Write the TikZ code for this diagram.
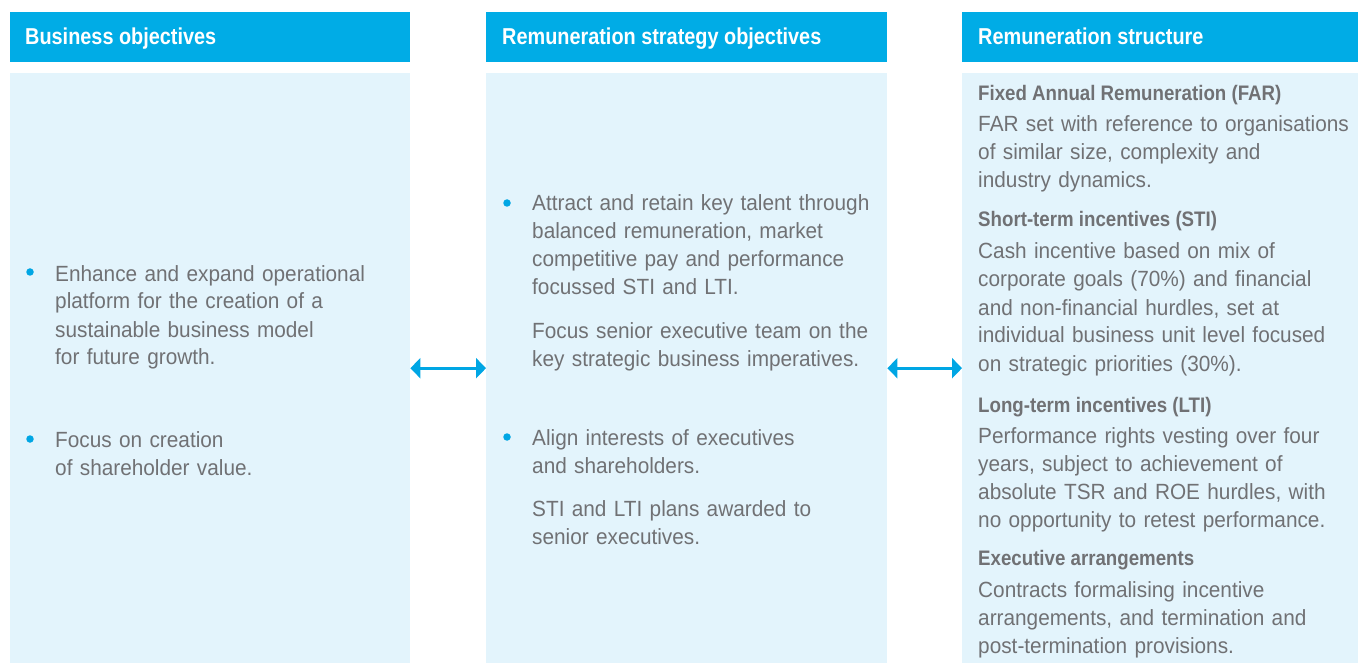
\documentclass[tikz,border=0pt]{standalone}
\usepackage{fontspec}
\usetikzlibrary{arrows.meta}
\newfontfamily\bodyfont{Liberation Sans}[FakeStretch=0.945]
\newfontfamily\subfont{Liberation Sans Bold}[FakeStretch=0.89]
\newfontfamily\headfont{Liberation Sans Bold}[FakeStretch=0.864]
\definecolor{cyanhead}{RGB}{0,172,230}
\definecolor{panelbg}{RGB}{227,244,252}
\definecolor{txtgray}{RGB}{112,113,116}
\definecolor{bulletc}{RGB}{0,166,228}
\tikzset{
  headbox/.style={fill=cyanhead, draw=none, inner sep=0, minimum width=#1, minimum height=50pt, anchor=north west},
  panel/.style={fill=panelbg, draw=none, inner sep=0, minimum width=#1, minimum height=590pt, anchor=north west},
  headtxt/.style={anchor=base west, inner sep=0, text=white, font=\headfont\fontsize{23}{28}\selectfont},
  body/.style={anchor=base west, inner sep=0, text=txtgray, text width=395pt, align=left, font=\bodyfont\fontsize{22}{28}\selectfont},
  subhead/.style={anchor=base west, inner sep=0, text=txtgray, font=\subfont\fontsize{21}{28}\selectfont},
  bullet/.style={circle, fill=bulletc, draw=none, inner sep=0, minimum size=7.5pt},
  link/.style={draw=bulletc, line width=3pt, {Triangle[length=10pt,width=20pt]}-{Triangle[length=10pt,width=20pt]}}
}
\begin{document}
\begin{tikzpicture}[x=1pt,y=-1pt]
\useasboundingbox (0,0) rectangle (1358,663);
% headers
\node[headbox=400pt] (h1) at (10,12) {};
\node[headbox=401pt] (h2) at (486,12) {};
\node[headbox=396pt] (h3) at (962,12) {};
\node[headtxt] (t1) at (25,45) {Business objectives};
\node[headtxt] (t2) at (502,45) {Remuneration strategy objectives};
\node[headtxt] (t3) at (978,45) {Remuneration structure};
% panels
\node[panel=400pt] (p1) at (10,73) {};
\node[panel=401pt] (p2) at (486,73) {};
\node[panel=396pt] (p3) at (962,73) {};
% arrows
\draw[link] (p1.east) -- (p2.west);
\draw[link] (p2.east) -- (p3.west);
% column 1
\node[bullet] (b1) at (30,272) {};
\node[body] (c1a) at (55,281) {Enhance and expand operational\\platform for the creation of a\\sustainable business model\\for future growth.};
\node[bullet] (b2) at (30,439) {};
\node[body] (c1b) at (55,447) {Focus on creation\\of shareholder value.};
% column 2
\node[bullet] (b3) at (507,203) {};
\node[body] (c2a) at (532,211) {Attract and retain key talent through\\balanced remuneration, market\\competitive pay and performance\\focussed STI and LTI.};
\node[body] (c2b) at (532,338) {Focus senior executive team on the\\key strategic business imperatives.};
\node[bullet] (b4) at (507,437) {};
\node[body] (c2c) at (532,445) {Align interests of executives\\and shareholders.};
\node[body] (c2d) at (532,516) {STI and LTI plans awarded to\\senior executives.};
% column 3
\node[subhead] (s1) at (978,101) {Fixed Annual Remuneration (FAR)};
\node[body] (d1) at (978,132) {FAR set with reference to organisations\\of similar size, complexity and\\industry dynamics.};
\node[subhead] (s2) at (978,227) {Short-term incentives (STI)};
\node[body] (d2) at (978,259) {Cash incentive based on mix of\\corporate goals (70\%) and financial\\and non-financial hurdles, set at\\individual business unit level focused\\on strategic priorities (30\%).};
\node[subhead] (s3) at (978,412) {Long-term incentives (LTI)};
\node[body] (d3) at (978,443) {Performance rights vesting over four\\years, subject to achievement of\\absolute TSR and ROE hurdles, with\\no opportunity to retest performance.};
\node[subhead] (s4) at (978,565) {Executive arrangements};
\node[body] (d4) at (978,597) {Contracts formalising incentive\\arrangements, and termination and\\post-termination provisions.};
\end{tikzpicture}
\end{document}
